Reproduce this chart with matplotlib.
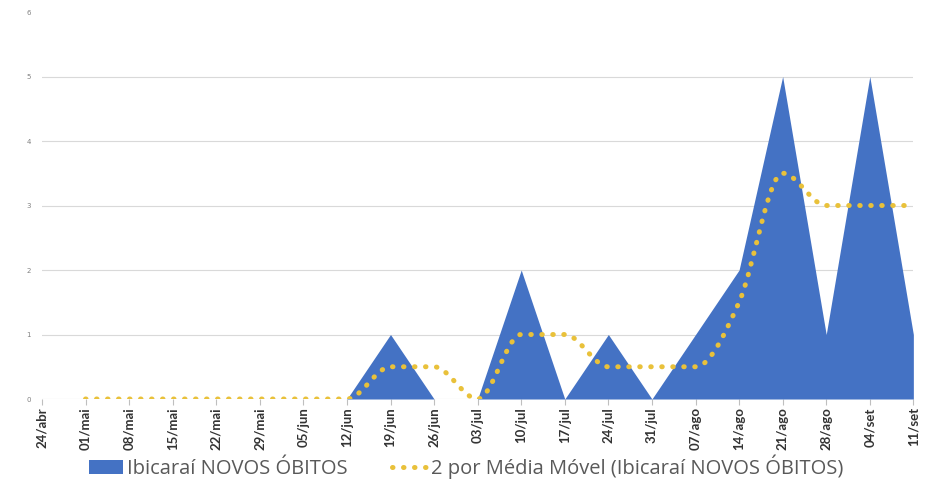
import matplotlib
matplotlib.use("Agg")
import matplotlib.pyplot as plt
from matplotlib.path import Path
from matplotlib.patches import PathPatch
from matplotlib.lines import Line2D
from matplotlib.patches import Patch
import numpy as np

dates = ["24/abr", "01/mai", "08/mai", "15/mai", "22/mai", "29/mai", "05/jun",
         "12/jun", "19/jun", "26/jun", "03/jul", "10/jul", "17/jul", "24/jul",
         "31/jul", "07/ago", "14/ago", "21/ago", "28/ago", "04/set", "11/set"]
obitos = [0, 0, 0, 0, 0, 0, 0, 0, 1, 0, 0, 2, 0, 1, 0, 1, 2, 5, 1, 5, 1]
media_movel = [None, 0, 0, 0, 0, 0, 0, 0, 0.5, 0.5, 0, 1, 1, 0.5, 0.5, 0.5, 1.5, 3.5, 3, 3, 3]

blue = "#4472C4"
gold = "#E9C13A"
dot_style = (0, (0.1, 2.1))
dot_lw = 3.6

fig = plt.figure(figsize=(9.32, 4.84), dpi=100)
ax = fig.add_axes([0.045, 0.1756, 0.935, 0.7996])

x = np.arange(len(dates))
ax.fill_between(x, obitos, 0, color=blue, linewidth=0, zorder=2)

# smoothed moving-average line (monotone cubic bezier between the points)
mx = [i for i, v in enumerate(media_movel) if v is not None]
my = [media_movel[i] for i in mx]
n = len(mx)
d = [(my[i + 1] - my[i]) / (mx[i + 1] - mx[i]) for i in range(n - 1)]
m = [0.0] * n
m[0] = d[0]
m[-1] = d[-1]
for k in range(1, n - 1):
    if d[k - 1] * d[k] <= 0:
        m[k] = 0.0
    else:
        m[k] = (d[k - 1] + d[k]) / 2
for k in range(n - 1):
    if d[k] == 0:
        m[k] = 0.0
        m[k + 1] = 0.0
    else:
        a, b = m[k] / d[k], m[k + 1] / d[k]
        s = a * a + b * b
        if s > 9:
            t = 3 / np.sqrt(s)
            m[k] = t * a * d[k]
            m[k + 1] = t * b * d[k]
verts = [(mx[0], my[0])]
codes = [Path.MOVETO]
for i in range(n - 1):
    h = mx[i + 1] - mx[i]
    c1 = (mx[i] + h / 3, my[i] + m[i] * h / 3)
    c2 = (mx[i + 1] - h / 3, my[i + 1] - m[i + 1] * h / 3)
    verts += [c1, c2, (mx[i + 1], my[i + 1])]
    codes += [Path.CURVE4] * 3
patch = PathPatch(Path(verts, codes), facecolor="none", edgecolor=gold,
                  linewidth=dot_lw, linestyle=dot_style, capstyle="round", zorder=3)
ax.add_patch(patch)

ax.set_xlim(0, len(dates) - 1)
ax.set_ylim(0, 6)
ax.set_yticks(range(0, 7))
ax.set_yticklabels([str(i) for i in range(0, 7)], fontsize=5, color="#808080")
for yv in range(1, 6):
    ax.axhline(yv, color="#D9D9D9", linewidth=0.8, zorder=1)
ax.axhline(0, color="#D0D0D0", linewidth=0.8, zorder=1)

ax.set_xticks(x)
ax.set_xticklabels(dates, rotation=90, fontsize=9.5, color="#333333",
                   fontweight="bold", family="Lato")
ax.tick_params(axis="x", length=4, color="#BFBFBF", width=0.8, pad=2)
ax.tick_params(axis="y", length=0, pad=8)
for s in ax.spines.values():
    s.set_visible(False)

handles = [Patch(facecolor=blue, edgecolor="none"),
           Line2D([0], [0], color=gold, linewidth=dot_lw, linestyle=dot_style,
                  dash_capstyle="round")]
labels = ["Ibicaraí NOVOS ÓBITOS", "2 por Média Móvel (Ibicaraí NOVOS ÓBITOS)"]
fig.legend(handles, labels, loc="center", bbox_to_anchor=(0.5, 0.036), ncol=2,
           frameon=False, prop={"family": "Open Sans", "size": 14.5},
           labelcolor="#595959", handlelength=1.7, handleheight=0.7,
           handletextpad=0.2, columnspacing=2.2)

fig.savefig("out.png", dpi=100, facecolor="white")
